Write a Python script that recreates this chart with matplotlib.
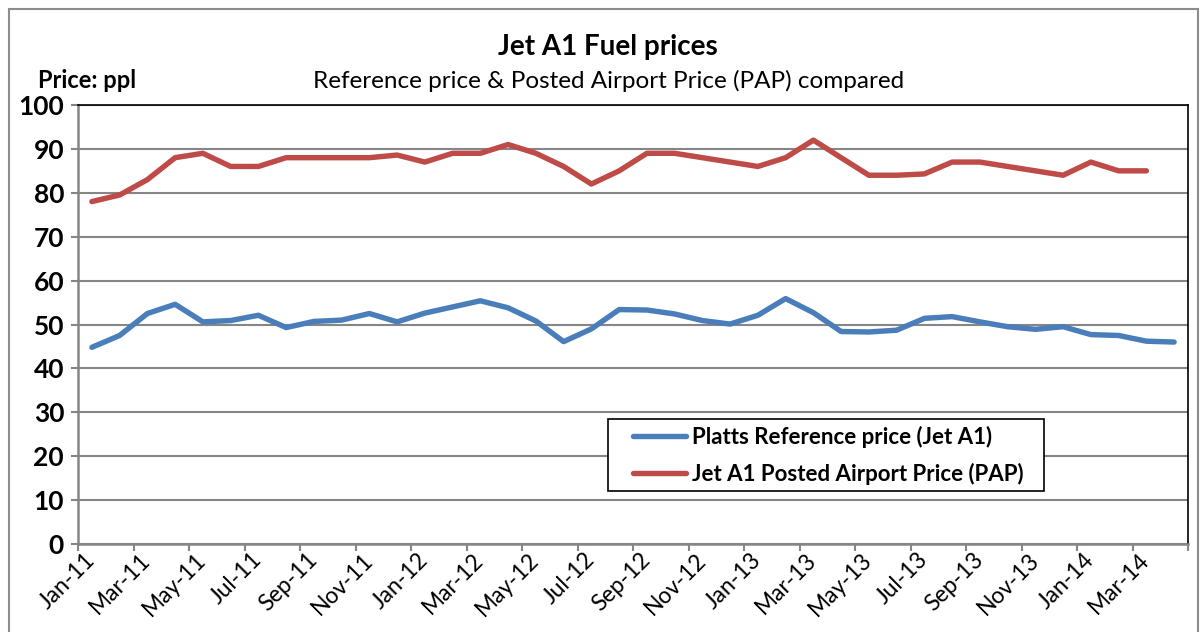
import matplotlib
matplotlib.use("Agg")
import numpy as np
from matplotlib import pyplot as plt
from matplotlib.lines import Line2D
from matplotlib.patches import Rectangle

plt.rcParams['font.family'] = ['Lato', 'DejaVu Sans']

MONTHS = ['Jan', 'Feb', 'Mar', 'Apr', 'May', 'Jun',
          'Jul', 'Aug', 'Sep', 'Oct', 'Nov', 'Dec']
months = ['{}-{}'.format(MONTHS[i % 12], 11 + i // 12) for i in range(40)]

# Platts reference price (Jet A1), Jan-11 .. Apr-14, ppl
platts = [44.8, 47.5, 52.5, 54.6, 50.6, 50.9, 52.1, 49.3, 50.7, 51.0,
          52.5, 50.6, 52.6, 54.0, 55.4, 53.8, 50.8, 46.1, 49.0, 53.4,
          53.3, 52.4, 50.9, 50.1, 52.1, 55.9, 52.7, 48.4, 48.3, 48.7,
          51.4, 51.8, 50.6, 49.5, 48.9, 49.5, 47.7, 47.5, 46.2, 46.0]
# Jet A1 posted airport price, Jan-11 .. Mar-14, ppl
pap = [78.0, 79.5, 83.0, 88.0, 89.0, 86.0, 86.0, 88.0, 88.0, 88.0,
       88.0, 88.6, 87.0, 89.0, 89.0, 91.0, 89.0, 86.0, 82.0, 85.0,
       89.0, 89.0, 88.0, 87.0, 86.0, 88.0, 92.0, 88.0, 84.0, 84.0,
       84.3, 87.0, 87.0, 86.0, 85.0, 84.0, 87.0, 85.0, 85.0]

W, H = 1204, 632
fig = plt.figure(figsize=(W / 100, H / 100), dpi=100)

# outer chart border
for xs, ys in [([9, 9], [0, H - 9]), ([9, 1198], [H - 9, H - 9]),
               ([1198, 1198], [0, H - 9])]:
    fig.add_artist(Line2D([x / W for x in xs], [y / H for y in ys],
                          color='#8c8c8c', lw=1.5, transform=fig.transFigure))

ax = fig.add_axes([78 / W, 1 - 544 / H, 1110 / W, 439 / H])
x = np.arange(len(months))
ax.plot(x, platts, color='#4a7ebb', lw=3.9, solid_capstyle='round',
        solid_joinstyle='round', label='Platts Reference price (Jet A1)')
ax.plot(x[:len(pap)], pap, color='#be4b48', lw=3.9, solid_capstyle='round',
        solid_joinstyle='round', label='Jet A1 Posted Airport Price (PAP)')

ax.set_xlim(-0.5, len(months) - 0.5)
ax.set_ylim(0, 100)
ax.set_yticks(range(0, 101, 10))
ax.set_yticklabels([str(v) for v in range(0, 101, 10)],
                   fontsize=19, fontweight='bold')
ax.grid(axis='y', color='#868686', lw=1.5)
ax.set_axisbelow(True)

# tick marks at category boundaries, labels at every other category
ax.set_xticks(np.arange(-0.5, len(months), 2))
ax.set_xticklabels([])
ax.set_xticks(x[::2], minor=True)
ax.set_xticklabels(months[::2], minor=True, rotation=45, ha='right',
                   va='center', rotation_mode='anchor', fontsize=16.5)
ax.tick_params(axis='x', which='minor', length=0, pad=9)
ax.tick_params(axis='both', which='major', length=5, width=1.5,
               color='#868686', direction='out')
ax.tick_params(axis='y', pad=5)

for s in ['left', 'bottom']:
    ax.spines[s].set_color('#868686')
    ax.spines[s].set_linewidth(1.8)
for s in ['top', 'right']:
    ax.spines[s].set_color('black')
    ax.spines[s].set_linewidth(1.2)

# legend box spans x 608..1044, y 419..491 in the reference picture
ax.add_patch(Rectangle((530 / 1110, 53 / 439), 436 / 1110, 72 / 439,
                       transform=ax.transAxes, facecolor='white',
                       edgecolor='black', lw=1.2, zorder=4.5))
leg = ax.legend(loc='upper left', bbox_to_anchor=(555 / 1110, 118 / 439),
                borderaxespad=0, frameon=False,
                handlelength=2.4, handletextpad=0.25,
                borderpad=0, labelspacing=0.65,
                prop={'size': 16, 'weight': 'bold'})

fig.text(608 / W, 1 - 47 / H, 'Jet A1 Fuel prices', ha='center',
         va='center', fontsize=20, fontweight='bold')
fig.text(609 / W, 1 - 81 / H,
         'Reference price & Posted Airport Price (PAP) compared',
         ha='center', va='center', fontsize=17.5)
fig.text(38 / W, 1 - 80 / H, 'Price: ppl', ha='left', va='center',
         fontsize=17, fontweight='bold')

fig.savefig('out.png', dpi=100)
